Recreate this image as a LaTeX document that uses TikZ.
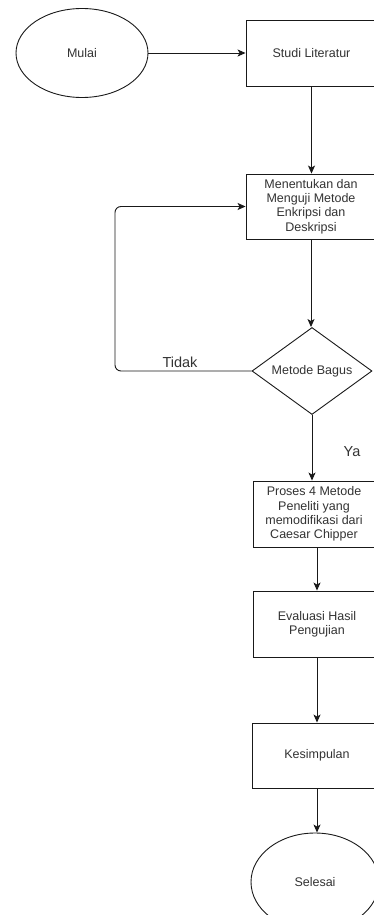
\documentclass[tikz,border=0pt]{standalone}
\usepackage{fontspec}
\setmainfont{Liberation Sans}
\usetikzlibrary{shapes.geometric,arrows.meta}
\begin{document}
\begin{tikzpicture}[x=1pt,y=-1pt,
  every node/.style={text=black!80, font=\fontsize{12.5}{14.3}\selectfont, inner sep=0pt},
  boxnode/.style={draw=black!90, line width=0.9pt, rectangle, align=center},
  ovalnode/.style={draw=black!90, line width=0.9pt, ellipse},
  decnode/.style={draw=black!90, line width=0.9pt, diamond, aspect=1.38},
  lbl/.style={font=\fontsize{14.5}{16}\selectfont},
  conn/.style={draw=black!90, line width=0.9pt, -{Stealth[length=8pt,width=7pt,inset=2pt]}}
]
\useasboundingbox (0,0) rectangle (374,915);
\fill[white] (0,0) rectangle (374,915);
\clip (0,0) rectangle (374,915);

\node[ovalnode, minimum width=132pt, minimum height=89pt] (mulai) at (82,53) {Mulai};
\node[boxnode, minimum width=131pt, minimum height=66pt] (studi) at (311.5,53) {Studi Literatur};
\node[boxnode, minimum width=130pt, minimum height=65pt] (menentukan) at (311,206.5)
  {Menentukan dan\\Menguji Metode\\Enkripsi dan\\Deskripsi};
\node[decnode, minimum width=120pt, minimum height=87pt] (bagus) at (312,371) {Metode Bagus};
\node[boxnode, minimum width=122pt, minimum height=66pt] (proses) at (314,514)
  {Proses 4 Metode\\Peneliti yang\\memodifikasi dari\\Caesar Chipper};
\node[boxnode, minimum width=128pt, minimum height=66pt] (evaluasi) at (317,624)
  {Evaluasi Hasil\\Pengujian};
\node[boxnode, minimum width=130pt, minimum height=65pt] (kesimpulan) at (317,755.5) {Kesimpulan};
\node[ovalnode, minimum width=128pt, minimum height=98pt] (selesai) at (315,882) {Selesai};

\coordinate (lp) at (115,0);

\draw[conn] (mulai.east) -- (studi.west);
\draw[conn] (studi.south) -- (studi.south |- menentukan.north);
\draw[conn] (menentukan.south) -- (menentukan.south |- bagus.north);
\draw[conn] (bagus.south) -- (bagus.south |- proses.north);
\draw[conn] (proses.south -| evaluasi.north) -- (evaluasi.north);
\draw[conn] (evaluasi.south) -- (kesimpulan.north);
\draw[conn] (kesimpulan.south) -- (kesimpulan.south |- selesai.north);
\draw[conn, rounded corners=6pt] (bagus.west) -- (bagus.west -| lp) -- (menentukan.west -| lp) -- (menentukan.west);

\node[lbl] (tidak) at (180,362) {Tidak};
\node[lbl] (ya) at (352,452) {Ya};
\end{tikzpicture}
\end{document}
